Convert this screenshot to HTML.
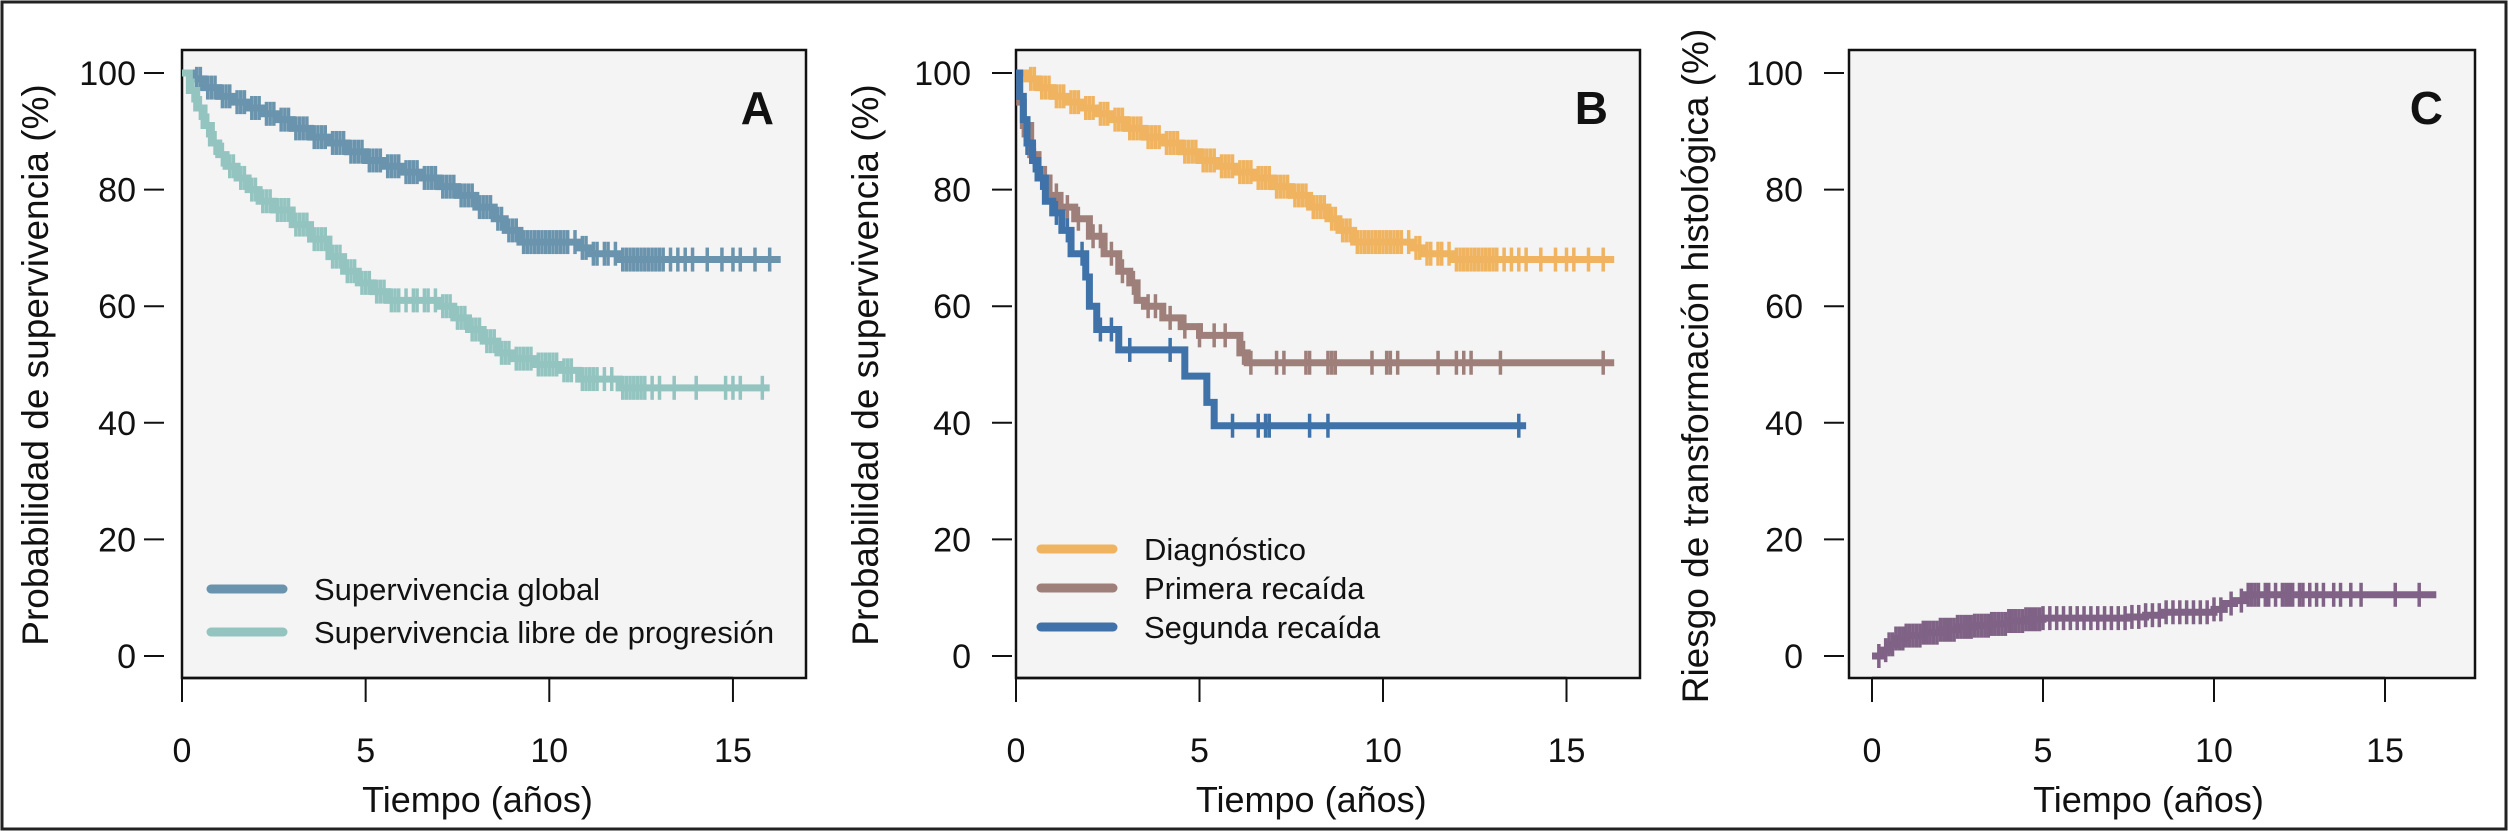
<!DOCTYPE html>
<html><head><meta charset="utf-8">
<style>
html,body{margin:0;padding:0;background:#fff;}
svg{display:block;font-family:"Liberation Sans",Arial,sans-serif;}
</style></head>
<body>
<svg id="fig" width="2508" height="831" viewBox="0 0 2508 831" xmlns="http://www.w3.org/2000/svg">
<rect x="2" y="2" width="2504" height="827" fill="#fff" stroke="#222" stroke-width="3"/>
</svg>
<script>
// ---- Panel A data ----
const osTimes = [0,0.3,0.6,1.0,1.4,1.8,2.2,2.6,3.0,3.5,4.0,4.5,5.0,5.5,6.0,6.5,7.0,7.5,8.0,8.5,8.8,9.2,10.8,11.1,11.9];
const osVals  = [100,99,97.5,96,95,94,93,92,90.5,89,88,86.5,85,84,83,82,80.5,79,77,75,73,71,70,69,68];
const osCens  = [0.4,0.5,0.7,0.8,0.9,1.1,1.2,1.3,1.5,1.6,1.7,1.9,2.0,2.1,2.3,2.4,2.5,2.7,2.8,2.9,3.1,3.2,3.3,3.4,3.6,3.7,3.8,3.9,4.1,4.2,4.3,4.4,4.6,4.7,4.8,4.9,5.1,5.2,5.3,5.4,5.6,5.7,5.8,5.9,6.1,6.2,6.3,6.4,6.6,6.7,6.8,6.9,7.1,7.2,7.3,7.4,7.6,7.7,7.8,7.9,8.1,8.2,8.3,8.4,8.6,8.7,8.9,9.0,9.1,9.3,9.4,9.5,9.6,9.7,9.8,9.9,10.0,10.1,10.2,10.3,10.4,10.5,10.7,10.9,11.0,11.2,11.3,11.5,11.6,11.8,12.0,12.1,12.2,12.3,12.4,12.5,12.6,12.7,12.8,12.9,13.0,13.1,13.3,13.5,13.7,13.9,14.3,14.7,15.0,15.2,15.6,16.0];
const pfsTimes = [0,0.2,0.4,0.6,0.8,1.0,1.2,1.5,1.8,2.1,2.5,3.0,3.5,4.0,4.4,4.8,5.2,5.6,7.0,7.4,7.8,8.2,8.6,9.0,9.6,10.3,10.8,11.9];
const pfsVals  = [100,97,94,91,88,86,84,82,80,78,76.5,74,71.5,68.5,66,64,62.5,61,60,58,56,54,52,51,50,49,47.5,46];
const pfsCens  = [0.3,0.5,0.7,0.9,1.1,1.3,1.4,1.6,1.7,1.9,2.0,2.2,2.3,2.4,2.6,2.7,2.8,2.9,3.1,3.2,3.3,3.4,3.6,3.7,3.8,3.9,4.1,4.2,4.3,4.5,4.6,4.7,4.9,5.0,5.1,5.3,5.4,5.5,5.7,5.8,5.9,6.1,6.3,6.4,6.6,6.7,6.9,7.1,7.2,7.3,7.5,7.6,7.7,7.9,8.0,8.1,8.3,8.4,8.5,8.7,8.8,8.9,9.1,9.2,9.3,9.4,9.5,9.7,9.8,9.9,10.0,10.1,10.2,10.4,10.5,10.6,10.9,11.0,11.1,11.2,11.3,11.5,11.7,12.0,12.1,12.2,12.3,12.4,12.5,12.6,12.8,13.0,13.4,14.0,14.8,15.0,15.2,15.8];
// ---- Panel B data ----
const dxTimes = osTimes, dxVals = osVals, dxCens = osCens;
const r1Times = [0,0.1,0.2,0.4,0.6,0.9,1.2,1.6,2.0,2.4,2.8,3.1,3.3,3.5,4.0,4.5,5.0,6.1,6.3];
const r1Vals  = [100,95,91,86,82,79,77,75,72,69,66,64,61,60,58,56.5,55,52,50.3];
const r1Cens  = [0.2,0.5,0.8,1.1,1.4,1.7,2.1,2.3,2.6,2.9,3.2,3.6,3.8,4.2,4.6,5.0,5.4,5.7,6.2,6.4,7.1,7.3,7.9,8.0,8.5,8.6,8.7,9.7,10.1,10.2,10.4,11.5,12.0,12.2,12.4,13.2,16.0];
const r2Times = [0,0.1,0.2,0.3,0.45,0.6,0.8,1.0,1.25,1.5,1.9,2.0,2.2,2.8,4.6,5.2,5.4];
const r2Vals  = [100,96,92,88,85,82,78,76,73,69,65,60,56,52.5,48,43.5,39.5];
const r2Cens  = [0.3,0.5,0.7,1.1,1.4,1.8,2.3,2.6,3.1,4.2,5.9,6.6,6.8,6.9,8.0,8.5,13.7];
// ---- Panel C data ----
const trTimes = [0,0.3,0.5,0.7,1.0,1.5,2.0,2.5,3.0,3.5,4.0,4.5,5.0,7.5,8.0,8.5,10.0,10.3,10.6,10.9];
const trVals  = [0,1,2,3,3.5,4,4.5,5,5.2,5.5,6,6.3,6.5,6.7,7,7.5,8,9,9.5,10.5];
const trCens  = [0.2,0.4,0.5,0.6,0.7,0.8,0.9,1.0,1.1,1.2,1.3,1.4,1.5,1.6,1.7,1.8,1.9,2.0,2.1,2.2,2.3,2.4,2.5,2.6,2.7,2.8,2.9,3.0,3.1,3.2,3.3,3.4,3.5,3.6,3.7,3.8,3.9,4.0,4.1,4.2,4.3,4.4,4.5,4.6,4.7,4.8,4.9,5.0,5.2,5.4,5.6,5.8,6.0,6.2,6.4,6.6,6.8,7.0,7.2,7.4,7.6,7.8,8.0,8.2,8.4,8.6,8.8,9.0,9.2,9.4,9.6,9.8,10.0,10.2,10.5,10.8,11.0,11.1,11.2,11.3,11.5,11.6,11.8,12.0,12.1,12.2,12.3,12.5,12.6,12.8,13.0,13.2,13.5,13.7,14.0,14.3,15.3,16.0];
const yTicks = [0,20,40,60,80,100];
const xTicks = [0,5,10,15];

const NS = "http://www.w3.org/2000/svg";
const svg = document.getElementById('fig');
function el(tag, attrs, parent){
  const e = document.createElementNS(NS, tag);
  for (const k in attrs) e.setAttribute(k, attrs[k]);
  (parent||svg).appendChild(e); return e;
}
function panel(P){
  const g = el('g', {});
  
  
  const sx = t => P.x0 + t * P.pxYr;
  const sy = v => 656 - v * (656 - 73) / 100;
  const bg = el('rect', {x:P.bl, y:50, width:P.br-P.bl, height:628, fill:'#f4f4f4', stroke:'#111', 'stroke-width':2.5}, g);
  
  
  yTicks.forEach(v => {
    const l = el('line', {x1:P.ytx, x2:P.ytx+20, y1:sy(v), y2:sy(v), stroke:'#111', 'stroke-width':2}, g);
    
    
    const t = el('text', {x:P.ylx, y:sy(v)+12, 'text-anchor':'end', 'font-size':34, fill:'#111'}, g);
    t.textContent = v;
    
    
  });
  xTicks.forEach(v => {
    const l = el('line', {x1:sx(v), x2:sx(v), y1:678, y2:702, stroke:'#111', 'stroke-width':2}, g);
    
    
    const t = el('text', {x:sx(v), y:762, 'text-anchor':'middle', 'font-size':34, fill:'#111'}, g);
    t.textContent = v;
    
    
  });
  const xl = el('line', {x1:sx(0), x2:sx(15), y1:678, y2:678, stroke:'#111', 'stroke-width':2.5}, g);
  
  
  const xt = el('text', {x:(sx(0)+sx(15))/2+20, y:812, 'text-anchor':'middle', 'font-size':36, fill:'#111'}, g);
  xt.textContent = 'Tiempo (años)';
  
  
  const yt = el('text', {x:0, y:0, transform:`translate(${P.ytitleX},${P.ytitleY}) rotate(-90)`, 'text-anchor':'middle', 'font-size':37, fill:'#111'}, g);
  yt.textContent = P.ytitle;
  
  
  const lt = el('text', {x:P.br-32, y:124, 'text-anchor':'end', 'font-size':46, 'font-weight':'bold', fill:'#111'}, g);
  lt.textContent = P.letter;
  
  
  P.series.forEach(s => {
    let d = `M${sx(0)},${sy(s.v[0])}`;
    for (let i=1;i<s.t.length;i++){ d += ` H${sx(s.t[i])} V${sy(s.v[i])}`; }
    d += ` H${sx(s.end)}`;
    const p = el('path', {d, fill:'none', stroke:s.c, 'stroke-width':s.w||7}, g);
    
    
    s.cens.forEach(ct => {
      let v = s.v[0];
      for (let i=0;i<s.t.length;i++){ if (s.t[i] <= ct) v = s.v[i]; }
      const m = el('line', {x1:sx(ct), x2:sx(ct), y1:sy(v)-12, y2:sy(v)+12, stroke:s.c, 'stroke-width':3.5}, g);
      
      
    });
  });
  (P.legend||[]).forEach((L,i) => {
    const y = P.legY + i*P.legGap;
    const l = el('line', {x1:P.legX, x2:P.legX+72, y1:y, y2:y, stroke:L.c, 'stroke-width':9, 'stroke-linecap':'round'}, g);
    
    
    const t = el('text', {x:P.legX+103, y:y+11, 'font-size':31, fill:'#111'}, g);
    t.textContent = L.label;
    
    
  });
}
panel({name:'panel-a', letter:'A', bl:182, br:806, x0:182, pxYr:36.73, ytx:144, ylx:136, ytitleX:48, ytitleY:365,
  ytitle:'Probabilidad de supervivencia (%)',
  series:[
    {name:'os', t:osTimes, v:osVals, cens:osCens, end:16.3, c:'#6a94ad'},
    {name:'pfs', t:pfsTimes, v:pfsVals, cens:pfsCens, end:16.0, c:'#93c4c0'}],
  legX:211, legY:589, legGap:43,
  legend:[{label:'Supervivencia global', c:'#6a94ad'},{label:'Supervivencia libre de progresión', c:'#93c4c0'}]});
panel({name:'panel-b', letter:'B', bl:1016, br:1640, x0:1016, pxYr:36.7, ytx:992, ylx:971, ytitleX:878, ytitleY:365,
  ytitle:'Probabilidad de supervivencia (%)',
  series:[
    {name:'diagnostico', t:dxTimes, v:dxVals, cens:dxCens, end:16.3, c:'#f0b360'},
    {name:'primera-recaida', t:r1Times, v:r1Vals, cens:r1Cens, end:16.3, c:'#9e7f7a'},
    {name:'segunda-recaida', t:r2Times, v:r2Vals, cens:r2Cens, end:13.9, c:'#3f72a8'}],
  legX:1041, legY:549, legGap:39,
  legend:[{label:'Diagnóstico', c:'#f0b360'},{label:'Primera recaída', c:'#9e7f7a'},{label:'Segunda recaída', c:'#3f72a8'}]});
panel({name:'panel-c', letter:'C', bl:1849, br:2475, x0:1872, pxYr:34.2, ytx:1824, ylx:1803, ytitleX:1708, ytitleY:366,
  ytitle:'Riesgo de transformación histológica (%)',
  series:[{name:'transformacion', t:trTimes, v:trVals, cens:trCens, end:16.5, c:'#7f6285'}]});
</script>
</body></html>
